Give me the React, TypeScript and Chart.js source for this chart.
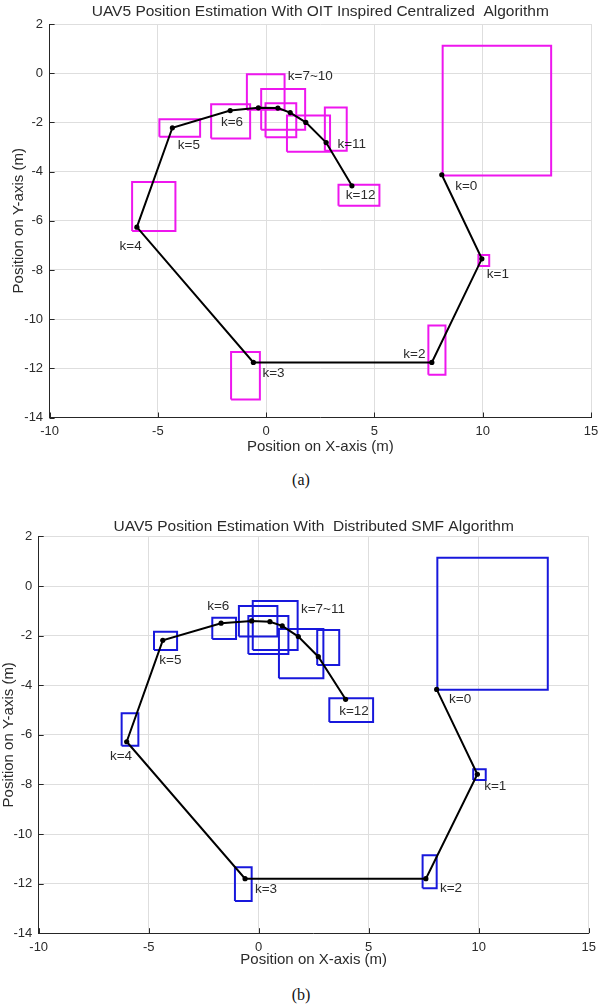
import React, { useEffect, useRef } from "react";
import { Chart, registerables } from "chart.js";

Chart.register(...registerables);

// ---------- shared axis ticks ----------
const xTickValues = [-10, -5, 0, 5, 10, 15];
const yTickValues = [2, 0, -2, -4, -6, -8, -10, -12, -14];

// ---------- chart (a): OIT inspired centralized ----------
const trajAX = [8.11, 9.96, 7.65, -0.59, -5.97, -4.33, -1.66, -0.36, 0.54, 1.11, 1.83, 2.77, 3.96];
const trajAY = [-4.13, -7.55, -11.76, -11.76, -6.26, -2.22, -1.52, -1.41, -1.42, -1.6, -2.0, -2.82, -4.58];

const boxAXMin = [8.15, 9.8, 7.49, -1.62, -6.19, -4.93, -2.54, -0.89, -0.23, -0.03, 0.96, 2.71, 3.34];
const boxAXMax = [13.16, 10.3, 8.28, -0.29, -4.19, -3.05, -0.74, 0.85, 1.8, 1.39, 2.95, 3.72, 5.23];
const boxAYMin = [-4.16, -7.84, -12.26, -13.27, -6.42, -2.58, -2.66, -1.49, -2.3, -2.6, -3.19, -3.15, -5.39];
const boxAYMax = [1.12, -7.39, -10.26, -11.34, -4.42, -1.87, -1.26, -0.04, -0.64, -1.22, -1.72, -1.4, -4.54];

const labelAText = ["k=0", "k=1", "k=2", "k=3", "k=4", "k=5", "k=6", "k=7~10", "k=11", "k=12"];
const labelAX = [8.73, 10.19, 6.33, -0.17, -6.77, -4.08, -2.09, 1.0, 3.29, 3.68];
const labelAY = [-4.58, -8.16, -11.43, -12.22, -7.05, -2.94, -2.01, -0.14, -2.89, -4.98];

// ---------- chart (b): distributed SMF ----------
const trajBX = [8.09, 9.94, 7.6, -0.62, -6.0, -4.36, -1.71, -0.32, 0.51, 1.07, 1.8, 2.71, 3.95];
const trajBY = [-4.17, -7.59, -11.8, -11.8, -6.28, -2.19, -1.5, -1.41, -1.44, -1.61, -2.04, -2.85, -4.57];

const boxBXMin = [8.12, 9.75, 7.45, -1.08, -6.23, -4.76, -2.11, -0.9, -0.27, -0.47, 0.92, 2.66, 3.21];
const boxBXMax = [13.14, 10.32, 8.09, -0.32, -5.47, -3.71, -1.03, 0.85, 1.77, 1.35, 2.94, 3.66, 5.2];
const boxBYMin = [-4.18, -7.82, -12.19, -12.7, -6.44, -2.58, -2.14, -2.04, -2.58, -2.74, -3.72, -3.19, -5.48];
const boxBYMax = [1.14, -7.39, -10.86, -11.34, -5.13, -1.84, -1.28, -0.81, -0.6, -1.21, -1.73, -1.77, -4.53];

const labelBText = ["k=0", "k=1", "k=2", "k=3", "k=4", "k=5", "k=6", "k=7~11", "k=12"];
const labelBX = [8.65, 10.25, 8.24, -0.17, -6.76, -4.52, -2.34, 1.92, 3.66];
const labelBY = [-4.56, -8.09, -12.19, -12.22, -6.85, -2.98, -0.83, -0.93, -5.07];

const titleA = "UAV5 Position Estimation With OIT Inspired Centralized  Algorithm";
const titleB = "UAV5 Position Estimation With  Distributed SMF Algorithm";
const xTitle = "Position on X-axis (m)";
const yTitle = "Position on Y-axis (m)";

const FONT = '"Liberation Sans", Arial, Helvetica, sans-serif';
const TEXT = "#2b2b2b";
const AXIS = "#262626";
const GRID = "#dedede";

const annotPlugin = {
  id: "annot",
  afterDatasetsDraw(chart: any, _args: any, opts: any) {
    const { ctx } = chart;
    const xs = chart.scales.x;
    const ys = chart.scales.y;
    ctx.save();
    // inward tick marks (MATLAB style)
    ctx.strokeStyle = AXIS;
    ctx.lineWidth = 1;
    ctx.beginPath();
    xs.ticks.forEach((t: any) => {
      const px = Math.round(xs.getPixelForValue(t.value)) + 0.5;
      ctx.moveTo(px, ys.bottom);
      ctx.lineTo(px, ys.bottom - 5);
    });
    ys.ticks.forEach((t: any) => {
      const py = Math.round(ys.getPixelForValue(t.value)) + 0.5;
      ctx.moveTo(xs.left, py);
      ctx.lineTo(xs.left + 5, py);
    });
    ctx.stroke();
    // k labels
    ctx.font = `13.5px ${FONT}`;
    ctx.fillStyle = TEXT;
    ctx.textAlign = "left";
    ctx.textBaseline = "middle";
    (opts.texts as string[]).forEach((t, i) => {
      ctx.fillText(t, xs.getPixelForValue(opts.xs[i]), ys.getPixelForValue(opts.ys[i]));
    });
    ctx.restore();
  },
};

type Layout = {
  yWidth: number;
  xHeight: number;
  padRight: number;
  titlePadTop: number;
  titlePadBottom: number;
  yTitlePad: number;
  xTitlePad: number;
};

function makeConfig(
  title: string,
  tx: number[],
  ty: number[],
  bx0: number[],
  bx1: number[],
  by0: number[],
  by1: number[],
  boxColor: string,
  texts: string[],
  lx: number[],
  ly: number[],
  lay: Layout
): any {
  const datasets: any[] = [
    {
      data: tx.map((x, i) => ({ x, y: ty[i] })),
      showLine: true,
      borderColor: "#000000",
      borderWidth: 2,
      pointRadius: 2.6,
      pointBackgroundColor: "#000000",
      pointBorderWidth: 0,
      tension: 0,
    },
  ];
  bx0.forEach((x0, i) => {
    const x1 = bx1[i];
    const y0 = by0[i];
    const y1 = by1[i];
    datasets.push({
      data: [
        { x: x0, y: y0 },
        { x: x1, y: y0 },
        { x: x1, y: y1 },
        { x: x0, y: y1 },
        { x: x0, y: y0 },
      ],
      showLine: true,
      borderColor: boxColor,
      borderWidth: 2,
      borderJoinStyle: "miter",
      pointRadius: 0,
      tension: 0,
      fill: false,
    });
  });
  return {
    type: "scatter",
    data: { datasets },
    plugins: [annotPlugin],
    options: {
      animation: false,
      responsive: false,
      events: [],
      layout: { padding: { top: 0, left: 0, right: lay.padRight, bottom: 0 } },
      plugins: {
        legend: { display: false },
        tooltip: { enabled: false },
        title: {
          display: true,
          text: title,
          fullSize: false,
          color: TEXT,
          font: { family: FONT, size: 15.5, weight: "normal", lineHeight: 16 / 15.5 },
          padding: { top: lay.titlePadTop, bottom: lay.titlePadBottom },
        },
        annot: { texts, xs: lx, ys: ly },
      },
      scales: {
        x: {
          type: "linear",
          min: -10,
          max: 15,
          afterBuildTicks: (s: any) => {
            s.ticks = xTickValues.map((v) => ({ value: v }));
          },
          afterFit: (s: any) => {
            s.height = lay.xHeight;
            s.paddingLeft = 0;
            s.paddingRight = 0;
          },
          grid: { color: GRID, lineWidth: 1, drawTicks: false },
          border: { display: true, color: AXIS, width: 1 },
          ticks: {
            color: TEXT,
            padding: 6.2,
            maxRotation: 0,
            autoSkip: false,
            font: { family: FONT, size: 13 },
            callback: (v: any) => String(v),
          },
          title: {
            display: true,
            text: xTitle,
            color: TEXT,
            font: { family: FONT, size: 15 },
            padding: { top: 0, bottom: lay.xTitlePad },
          },
        },
        y: {
          type: "linear",
          min: -14,
          max: 2,
          afterBuildTicks: (s: any) => {
            s.ticks = yTickValues.map((v) => ({ value: v }));
          },
          afterFit: (s: any) => {
            s.width = lay.yWidth;
            s.paddingTop = 0;
            s.paddingBottom = 0;
          },
          grid: { color: GRID, lineWidth: 1, drawTicks: false },
          border: { display: true, color: AXIS, width: 1 },
          ticks: {
            color: TEXT,
            padding: 6.5,
            autoSkip: false,
            font: { family: FONT, size: 13 },
            callback: (v: any) => String(v),
          },
          title: {
            display: true,
            text: yTitle,
            color: TEXT,
            font: { family: FONT, size: 15 },
            padding: { top: lay.yTitlePad, bottom: 0 },
          },
        },
      },
    },
  };
}

function Plot(props: { top: number; config: () => any }) {
  const ref = useRef<HTMLCanvasElement>(null);
  useEffect(() => {
    const chart = new Chart(ref.current as HTMLCanvasElement, props.config());
    return () => chart.destroy();
  }, []);
  return (
    <canvas
      ref={ref}
      width={598}
      height={470}
      style={{ position: "absolute", left: 0, top: props.top, width: 598, height: 470 }}
    />
  );
}

const captionStyle = (top: number): React.CSSProperties => ({
  position: "absolute",
  top,
  left: 0,
  width: 602,
  textAlign: "center",
  fontFamily: '"Liberation Serif", "Times New Roman", serif',
  fontSize: 16,
  lineHeight: "20px",
  color: "#111",
});

export default function App() {
  const cfgA = () =>
    makeConfig(titleA, trajAX, trajAY, boxAXMin, boxAXMax, boxAYMin, boxAYMax, "#ee16ee",
      labelAText, labelAX, labelAY,
      { yWidth: 49.6, xHeight: 52.5, padRight: 7, titlePadTop: 4, titlePadBottom: 4, yTitlePad: 10, xTitlePad: 14 });
  const cfgB = () =>
    makeConfig(titleB, trajBX, trajBY, boxBXMin, boxBXMax, boxBYMin, boxBYMax, "#1818dc",
      labelBText, labelBX, labelBY,
      { yWidth: 38.7, xHeight: 48.8, padRight: 9.3, titlePadTop: 7, titlePadBottom: 1.4, yTitlePad: 0.2, xTitlePad: 13 });
  return (
    <div style={{ position: "fixed", top: 0, left: 0, width: 598, height: 1008, background: "#fff", overflow: "hidden" }}>
      <Plot top={0} config={cfgA} />
      <div style={captionStyle(470)}>(a)</div>
      <Plot top={512} config={cfgB} />
      <div style={captionStyle(985)}>(b)</div>
    </div>
  );
}
